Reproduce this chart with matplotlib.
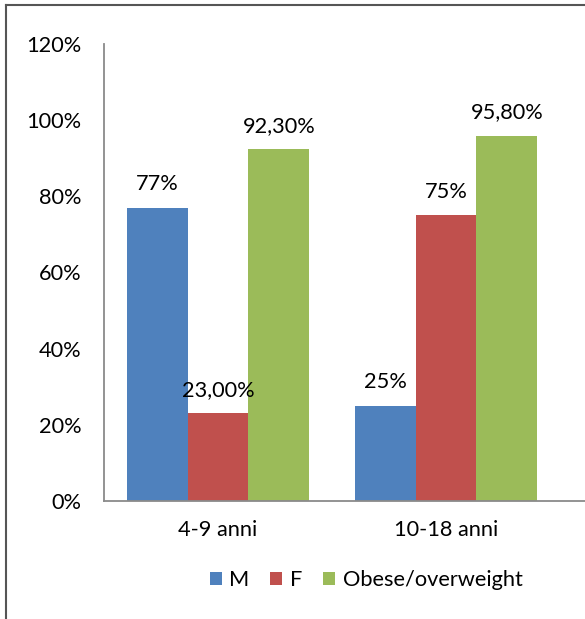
import matplotlib.pyplot as plt
import numpy as np
from matplotlib.lines import Line2D

plt.rcParams['font.family'] = ['Lato', 'DejaVu Sans']

groups = ['4-9 anni', '10-18 anni']
series = ['M', 'F', 'Obese/overweight']
values_m = [77.0, 25.0]
values_f = [23.0, 75.0]
values_ob = [92.3, 95.8]
labels_m = ['77%', '25%']
labels_f = ['23,00%', '75%']
labels_ob = ['92,30%', '95,80%']
colors = ['#4F81BD', '#C0504D', '#9BBB59']
yticks = [0, 20, 40, 60, 80, 100, 120]

W, H = 585, 619
fs = 15.7
fig = plt.figure(figsize=(W / 100, H / 100), dpi=100)
ax = fig.add_axes([104 / W, 1 - 501 / H, 1 - 104 / W, (501 - 44) / H])

x = np.arange(len(groups))
bw = 0.2675
all_vals = [values_m, values_f, values_ob]
all_labels = [labels_m, labels_f, labels_ob]
for i, (vals, labs) in enumerate(zip(all_vals, all_labels)):
    bars = ax.bar(x + (i - 1) * bw, vals, bw, color=colors[i], label=series[i])
    for b, lab in zip(bars, labs):
        ax.annotate(lab, (b.get_x() + b.get_width() / 2, b.get_height()),
                    xytext=(0, 17), textcoords='offset points',
                    ha='center', va='center', fontsize=fs, color='black')

ax.set_xlim(-0.5, (W - 218) / 228)
ax.set_ylim(0, 120)
ax.set_yticks(yticks)
ax.set_yticklabels([f'{t}%' for t in yticks], fontsize=fs)
ax.set_xticks(x)
ax.set_xticklabels(groups, fontsize=fs)
ax.tick_params(axis='y', length=0, pad=16)
ax.tick_params(axis='x', length=0, pad=14)
for s in ['top', 'right']:
    ax.spines[s].set_visible(False)
for s in ['left', 'bottom']:
    ax.spines[s].set_color('#8a8a8a')
    ax.spines[s].set_linewidth(1.3)

fig.legend(loc='center', bbox_to_anchor=(366 / W, 1 - 580 / H), ncol=3,
           frameon=False, fontsize=fs, handlelength=0.55, handleheight=0.55,
           handletextpad=0.35, columnspacing=0.95)

# partial frame from the original screenshot
fig.add_artist(Line2D([6 / W, 6 / W], [0, 1 - 5 / H], color='#555555', lw=1.5))
fig.add_artist(Line2D([6 / W, 1], [1 - 5 / H, 1 - 5 / H], color='#555555', lw=1.5))

plt.savefig('out.png', dpi=100)
